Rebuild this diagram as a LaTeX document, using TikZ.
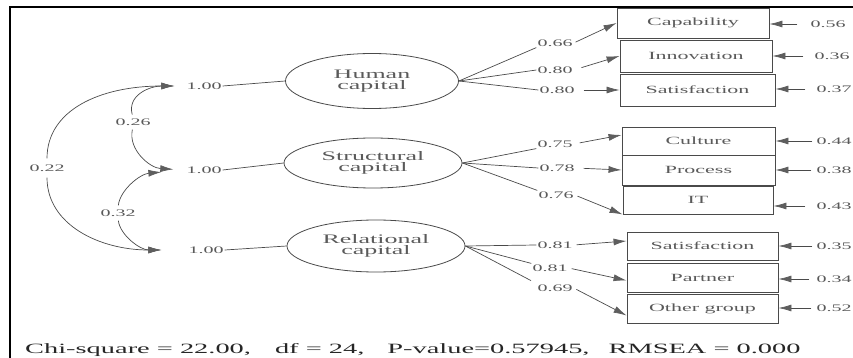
\documentclass[tikz,border=0pt]{standalone}
\usepackage{fontspec}
\setmainfont{Liberation Serif}
\newfontfamily\wf[FakeStretch=2]{Liberation Serif}
\usetikzlibrary{shapes.geometric,arrows.meta}
\definecolor{ln}{HTML}{4A4A4A}
\definecolor{tx}{HTML}{5A5A5A}
\definecolor{hd}{HTML}{5E5E5E}
\begin{document}
\begin{tikzpicture}[x=1pt,y=-1pt,
  num/.style={font=\wf\fontsize{10}{12}\selectfont, text=tx, inner sep=1pt},
  box/.style={draw=ln, line width=0.9pt, font=\wf\fontsize{11}{13}\selectfont, text=tx, inner sep=0pt, minimum width=152pt},
  lat/.style={draw=ln, line width=0.8pt, shape=ellipse, inner sep=0pt, align=center, font=\wf\fontsize{13}{11.5}\selectfont, text=tx},
  arr/.style={draw=ln, line width=0.7pt, -{Latex[length=13pt,width=7pt,color=hd]}},
  lnk/.style={draw=ln, line width=0.7pt},
]
\clip (0,0) rectangle (853,358);
\draw[line width=2pt] (10,358) -- (10,7) -- (853,7);

% latent variables
\node[lat, minimum width=173pt, minimum height=55pt] (h) at (372,81) {Human\\capital};
\node[lat, minimum width=178pt, minimum height=50pt] (s) at (373,163) {Structural\\capital};
\node[lat, minimum width=178pt, minimum height=52pt] (r) at (376,246) {Relational\\capital};

% variances
\node[num] (l1) at (204,86) {1.00};
\node[num] (l2) at (204,170) {1.00};
\node[num] (l3) at (206,250) {1.00};
\draw[lnk] (l1.east) -- (h.west);
\draw[lnk] (l2.east) -- (s.west);
\draw[lnk] (l3.east) -- (r.west);

% covariances
\node[num] (c22) at (47,168) {0.22};
\node[num] (c26) at (133,122) {0.26};
\node[num] (c32) at (118,213) {0.32};
\draw[arr, shorten <=5pt, shorten >=11pt] (c22.north) .. controls (47,110) and (100,86) .. (l1.west);
\draw[arr, shorten <=5pt, shorten >=26pt] (c22.south) .. controls (47,225) and (100,250) .. (l3.west);
\draw[arr, shorten <=3pt, shorten >=11pt] (c26.north) .. controls (127,95) and (150,86) .. (l1.west);
\draw[arr, shorten <=3pt, shorten >=12pt] (c26.south) .. controls (128,150) and (150,168) .. (l2.west);
\draw[arr, shorten <=3pt, shorten >=24pt] (c32.north) .. controls (120,190) and (140,174) .. (l2.west);
\draw[arr, shorten <=3pt, shorten >=26pt] (c32.south) .. controls (120,235) and (140,250) .. (l3.west);

% indicators
\node[box, minimum width=152pt, minimum height=30pt] (b1) at (693,23) {Capability};
\node[box, minimum width=152pt, minimum height=32pt] (b2) at (696,56) {Innovation};
\node[box, minimum width=155pt, minimum height=32pt] (b3) at (697.5,90) {Satisfaction};
\node[box, minimum width=153pt, minimum height=28pt] (b4) at (698.5,141) {Culture};
\node[box, minimum width=153pt, minimum height=30pt] (b5) at (698.5,170) {Process};
\node[box, minimum width=150pt, minimum height=28pt] (b6) at (698,200) {IT};
\node[box, minimum width=151pt, minimum height=28pt] (b7) at (702.5,246) {Satisfaction};
\node[box, minimum width=151pt, minimum height=29pt] (b8) at (702.5,277.5) {Partner};
\node[box, minimum width=151pt, minimum height=29pt] (b9) at (702.5,308.5) {Other group};

% loadings
\node[num] (n11) at (555,43) {0.66};
\node[num] (n12) at (555,70) {0.80};
\node[num] (n13) at (557,90) {0.80};
\node[num] (n21) at (555,144) {0.75};
\node[num] (n22) at (557,168) {0.78};
\node[num] (n23) at (556,195) {0.76};
\node[num] (n31) at (555,245) {0.81};
\node[num] (n32) at (550,268) {0.81};
\node[num] (n33) at (555,288) {0.69};

\draw[lnk] (h.east) -- (n11.south west);
\draw[lnk] (h.east) -- (n12.west);
\draw[lnk] (h.east) -- (n13.west);
\draw[lnk] (s.east) -- (n21.south west);
\draw[lnk] (s.east) -- (n22.west);
\draw[lnk] (s.east) -- (n23.north west);
\draw[lnk] (r.east) -- (n31.west);
\draw[lnk] (r.east) -- (n32.north west);
\draw[lnk, shorten >=6pt] (r.east) -- (n33.north west);

\draw[arr, shorten <=2pt] (n11.east) -- (b1.west);
\draw[arr, shorten <=8pt] (n12.east) -- (b2.west);
\draw[arr, shorten <=8pt] (n13.east) -- (b3.west);
\draw[arr, shorten <=6pt] (n21.east) -- ([yshift=6pt]b4.west);
\draw[arr, shorten <=8pt] (n22.east) -- (b5.west);
\draw[arr, shorten <=3pt] (n23.east) -- (b6.south west);
\draw[arr, shorten <=3pt] (n31.east) -- ([yshift=5pt]b7.west);
\draw[arr, shorten <=3pt] (n32.east) -- ([yshift=-3pt]b8.west);
\draw[arr, shorten <=3pt] (n33.east) -- ([yshift=-7pt]b9.west);

% errors
\node[num] (e1) at (828,24) {0.56};
\node[num] (e2) at (832,56) {0.36};
\node[num] (e3) at (834,89) {0.37};
\node[num] (e4) at (834,141) {0.44};
\node[num] (e5) at (834,170) {0.38};
\node[num] (e6) at (834,206) {0.43};
\node[num] (e7) at (834,246) {0.35};
\node[num] (e8) at (834,279) {0.34};
\node[num] (e9) at (834,308) {0.52};
\draw[arr, shorten <=12pt] (e1.west) -- (e1.west -| b1.east);
\draw[arr, shorten <=10pt] (e2.west) -- (e2.west -| b2.east);
\draw[arr, shorten <=10pt] (e3.west) -- (e3.west -| b3.east);
\draw[arr, shorten <=3pt] (e4.west) -- (e4.west -| b4.east);
\draw[arr, shorten <=4pt] (e5.west) -- (e5.west -| b5.east);
\draw[arr, shorten <=10pt] (e6.west) -- (e6.west -| b6.east);
\draw[arr, shorten <=3pt] (e7.west) -- (e7.west -| b7.east);
\draw[arr, shorten <=6pt] (e8.west) -- (e8.west -| b8.east);
\draw[arr, shorten <=4pt] (e9.west) -- (e9.west -| b9.east);

% fit statistics
\node[font=\wf\fontsize{14.2}{16}\selectfont, text=black!85, anchor=base west, inner sep=0pt] (chi) at (25,353)
  {Chi-square = 22.00,\hspace{24pt}df = 24,\hspace{23pt}P-value=0.57945,\hspace{19pt}RMSEA = 0.000};
\end{tikzpicture}
\end{document}
